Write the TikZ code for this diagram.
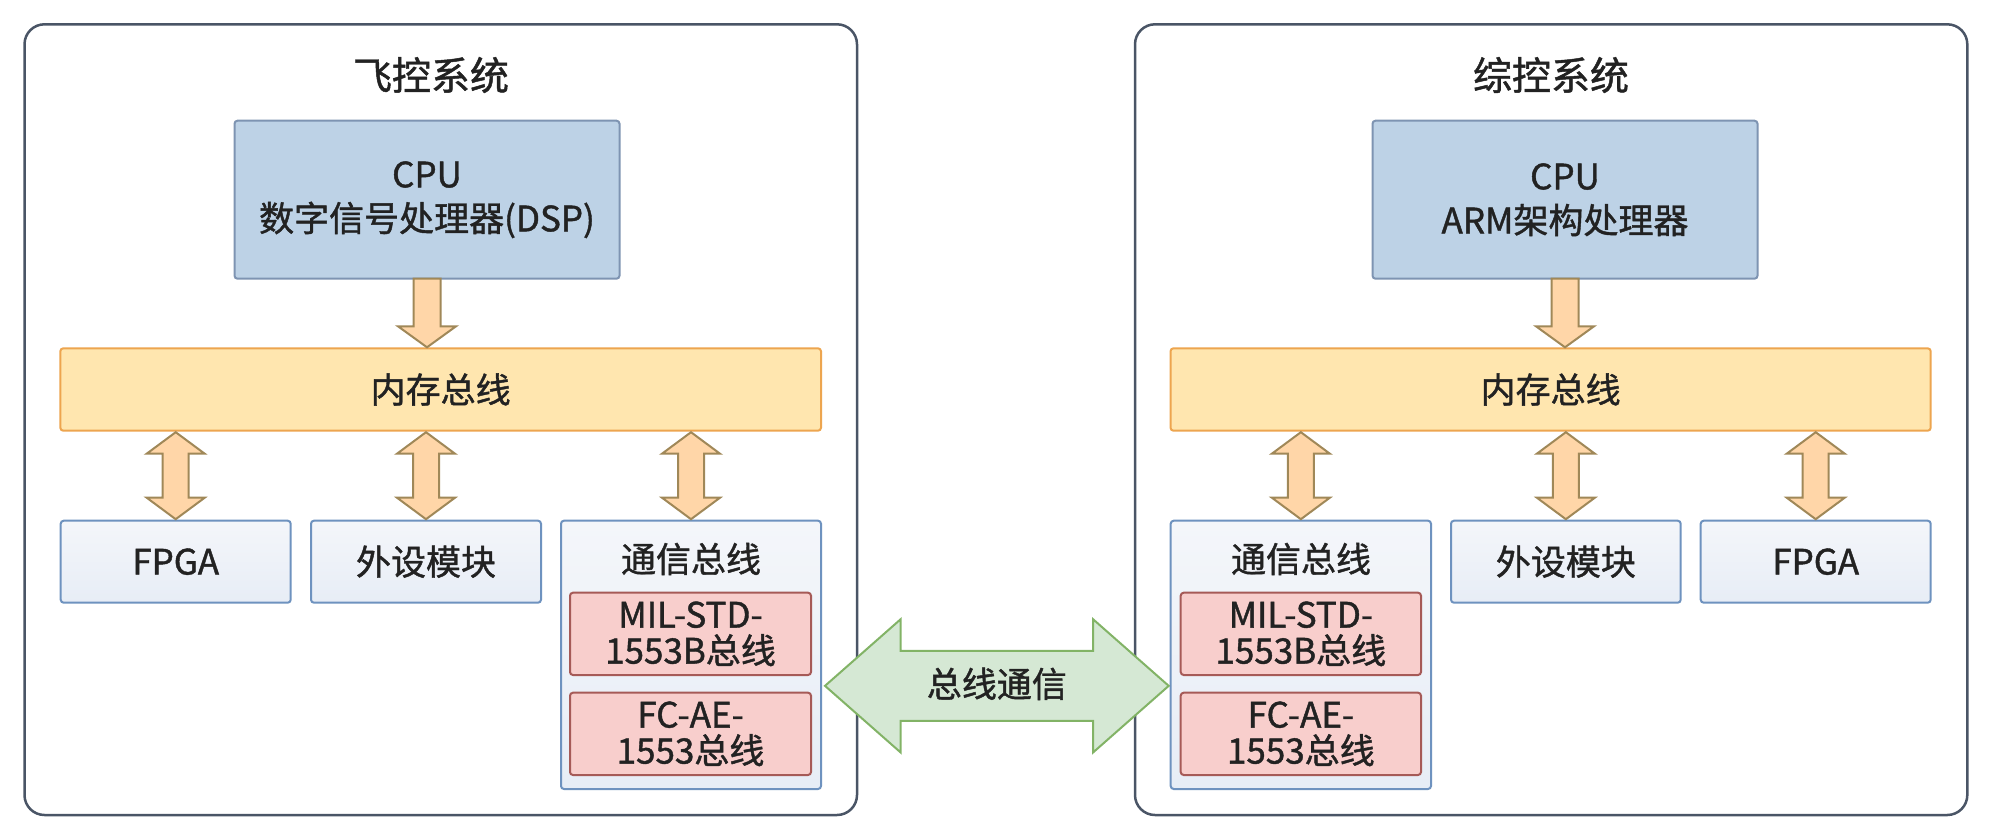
\documentclass[tikz,border=0pt]{standalone}
\usepackage{fontspec}
\setmainfont{Noto Sans CJK SC}[FakeBold=1.2]
\usetikzlibrary{calc}
\definecolor{contdraw}{HTML}{4A5566}
\definecolor{txt}{HTML}{222222}
\definecolor{cpufill}{HTML}{BDD2E6}
\definecolor{cpudraw}{HTML}{7E94B2}
\definecolor{busfill}{HTML}{FFE6AF}
\definecolor{busdraw}{HTML}{EDA54F}
\definecolor{arrfill}{HTML}{FFD6A8}
\definecolor{arrdraw}{HTML}{A08858}
\definecolor{lboxtop}{HTML}{F4F6FA}
\definecolor{lboxbot}{HTML}{E7EDF6}
\definecolor{lboxdraw}{HTML}{6E92BF}
\definecolor{redfill}{HTML}{F8CECC}
\definecolor{reddraw}{HTML}{A65A57}
\definecolor{gfill}{HTML}{D5E8D4}
\definecolor{gdraw}{HTML}{82B366}
\begin{document}
\begin{tikzpicture}[x=1pt,y=-1pt,
  container/.style={draw=contdraw, line width=2.5pt, fill=white, rounded corners=20pt, inner sep=0pt, outer sep=0pt},
  basebox/.style={line width=2pt, rounded corners=3pt, inner sep=0pt, outer sep=0pt, align=center, text=txt, font=\fontsize{35}{44}\selectfont},
  cpubox/.style={basebox, draw=cpudraw, fill=cpufill},
  busbox/.style={basebox, draw=busdraw, fill=busfill},
  lbox/.style={basebox, draw=lboxdraw, top color=lboxtop, bottom color=lboxbot},
  redbox/.style={basebox, draw=reddraw, fill=redfill, font=\fontsize{35}{36}\selectfont},
  titletxt/.style={inner sep=0pt, text=txt, font=\fontsize{39}{47}\selectfont},
  plaintxt/.style={inner sep=0pt, text=txt, font=\fontsize{35}{44}\selectfont},
  sblock/.style={draw=arrdraw, fill=arrfill, line width=2pt, line join=miter,
    to path={let \p1=(\tikztostart), \p2=(\tikztotarget) in
      (\x1-13.5pt,\y1) -- (\x1+13.5pt,\y1) -- (\x1+13.5pt,\y2+22pt) -- (\x1+29pt,\y2+22pt)
      -- (\x1,\y2+1pt) -- (\x1-29pt,\y2+22pt) -- (\x1-13.5pt,\y2+22pt) -- cycle}},
  dblock/.style={draw=arrdraw, fill=arrfill, line width=2pt, line join=miter,
    to path={let \p1=(\tikztostart), \p2=(\tikztotarget) in
      (\x1,\y1-1.5pt) -- (\x1+29pt,\y1-23pt) -- (\x1+13pt,\y1-23pt) -- (\x1+13pt,\y2+23pt)
      -- (\x1+29pt,\y2+23pt) -- (\x1,\y2+1.5pt) -- (\x1-29pt,\y2+23pt) -- (\x1-13pt,\y2+23pt)
      -- (\x1-13pt,\y1-23pt) -- (\x1-29pt,\y1-23pt) -- cycle}},
  gblock/.style={draw=gdraw, fill=gfill, line width=2pt, line join=miter,
    to path={let \p1=(\tikztostart), \p2=(\tikztotarget) in
      (\x1,\y1) -- (\x1+75.5pt,\y1+66.5pt) -- (\x1+75.5pt,\y1+35pt) -- (\x2-75.5pt,\y1+35pt)
      -- (\x2-75.5pt,\y1+66.5pt) -- (\x2,\y1) -- (\x2-75.5pt,\y1-66.5pt) -- (\x2-75.5pt,\y1-35pt)
      -- (\x1+75.5pt,\y1-35pt) -- (\x1+75.5pt,\y1-66.5pt) -- cycle}}
]
\useasboundingbox (0,0) rectangle (1994,838);

% containers
\node[container, minimum width=832.5pt, minimum height=790.7pt] (contL) at (440.75,419.65) {};
\node[container, minimum width=832.3pt, minimum height=790.7pt] (contR) at (1551.15,419.65) {};
\node[titletxt] (titleL) at (431,75) {飞控系统};
\node[titletxt] (titleR) at (1551,75) {综控系统};

% left system
\node[cpubox, minimum width=385pt, minimum height=158pt] (cpuL) at (427,199.7) {CPU\\数字信号处理器(DSP)};
\node[busbox, minimum width=760.7pt, minimum height=82.4pt] (busL) at (440.65,389.5) {内存总线};
\node[lbox, minimum width=230pt, minimum height=82pt] (fpgaL) at (175.7,561.7) {FPGA};
\node[lbox, minimum width=230pt, minimum height=82pt] (perL) at (426,561.7) {外设模块};
\node[lbox, minimum width=260pt, minimum height=268.3pt] (commL) at (691,654.85) {};
\node[plaintxt] (commLt) at (691,559) {通信总线};
\node[redbox, minimum width=241pt, minimum height=82.3pt] (milL) at (690.5,633.85) {MIL-STD-\\1553B总线};
\node[redbox, minimum width=241pt, minimum height=82.3pt] (fcL) at (690.5,733.85) {FC-AE-\\1553总线};

% right system
\node[cpubox, minimum width=385pt, minimum height=158pt] (cpuR) at (1565,199.7) {CPU\\ARM架构处理器};
\node[busbox, minimum width=760.2pt, minimum height=82.4pt] (busR) at (1550.6,389.5) {内存总线};
\node[lbox, minimum width=260.3pt, minimum height=268.3pt] (commR) at (1300.85,654.85) {};
\node[plaintxt] (commRt) at (1301,559) {通信总线};
\node[redbox, minimum width=240.3pt, minimum height=82.3pt] (milR) at (1300.85,633.85) {MIL-STD-\\1553B总线};
\node[redbox, minimum width=240.3pt, minimum height=82.3pt] (fcR) at (1300.85,733.85) {FC-AE-\\1553总线};
\node[lbox, minimum width=229.7pt, minimum height=82pt] (perR) at (1565.85,561.7) {外设模块};
\node[lbox, minimum width=230pt, minimum height=82pt] (fpgaR) at (1815.7,561.7) {FPGA};

% CPU -> memory bus
\coordinate (sL) at (busL.north -| cpuL.south);
\coordinate (sR) at (busR.north -| cpuR.south);
\draw[sblock] (cpuL.south) to (sL);
\draw[sblock] (cpuR.south) to (sR);

% memory bus <-> modules
\foreach \m/\b in {fpgaL/busL, perL/busL, commL/busL, commR/busR, perR/busR, fpgaR/busR}{
  \coordinate (top-\m) at (\m.north |- \b.south);
  \draw[dblock] (top-\m) to (\m.north);
}

% bus communication
\coordinate (gaL) at ($(commL.east)+(4,31)$);
\coordinate (gaR) at ($(commR.west)+(-2,31)$);
\draw[gblock] (gaL) to (gaR);
\node[plaintxt] (gtxt) at ($(gaL)!0.5!(gaR)+(0,-2)$) {总线通信};
\end{tikzpicture}
\end{document}
